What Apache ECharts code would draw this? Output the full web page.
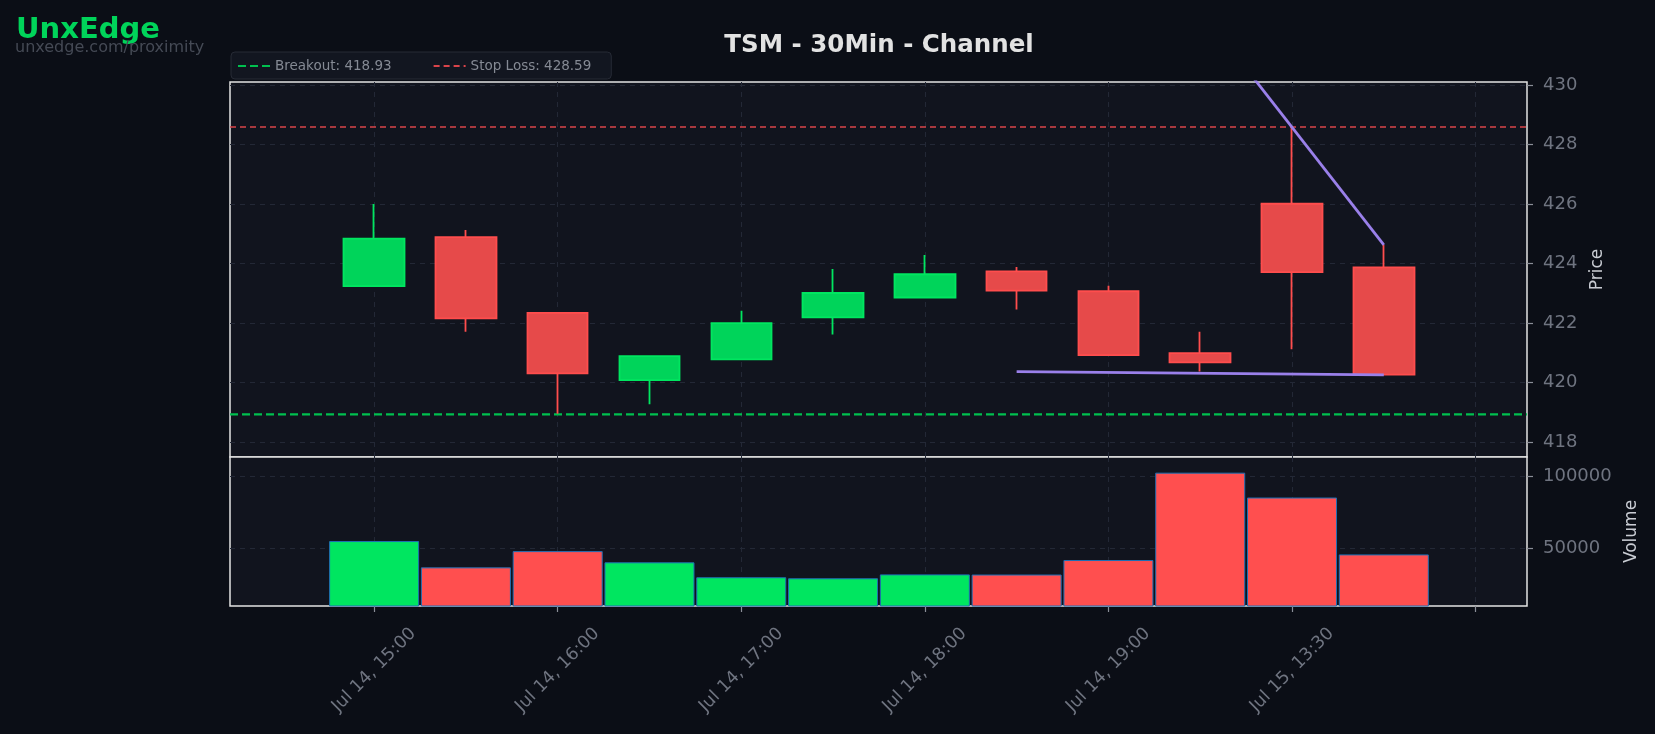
<!DOCTYPE html>
<html>
<head>
<meta charset="utf-8">
<title>TSM - 30Min - Channel</title>
<script src="https://cdn.jsdelivr.net/npm/echarts@6/dist/echarts.min.js"></script>
<style>
    html, body {margin: 0; padding: 0; background: #0b0e16;}
    #main {width: 1655px; height: 734px;}
</style>
</head>
<body>
<div id="main"></div>
<script>
var timeLabels = ['Jul 14, 15:00', 'Jul 14, 15:30', 'Jul 14, 16:00', 'Jul 14, 16:30', 'Jul 14, 17:00', 'Jul 14, 17:30',
    'Jul 14, 18:00', 'Jul 14, 18:30', 'Jul 14, 19:00', 'Jul 14, 19:30', 'Jul 15, 13:30', 'Jul 15, 14:00'];
var opens  = [423.24, 424.89, 422.34, 420.08, 420.78, 422.19, 422.86, 423.74, 423.07, 420.99, 426.01, 423.87];
var closes = [424.84, 422.16, 420.31, 420.89, 422.00, 423.01, 423.64, 423.09, 420.92, 420.68, 423.71, 420.27];
var lows   = [423.24, 421.71, 418.95, 419.27, 420.78, 421.62, 422.86, 422.46, 420.92, 420.37, 421.12, 420.27];
var highs  = [426.00, 425.13, 422.34, 420.89, 422.41, 423.82, 424.29, 423.88, 423.25, 421.71, 428.59, 424.63];
var volumes = [54900, 36600, 47900, 40100, 29700, 29000, 31700, 31600, 41700, 102500, 85200, 45600];

var breakout = 418.93;
var stopLoss = 428.59;
// channel lines: [index, price]
var upperChannel = [[7, 440.43], [11, 424.63]];
var lowerChannel = [[7, 420.37], [11, 420.26]];

// tick positions
var xTicks = [0, 2, 4, 6, 8, 10, 12];
var priceTicks = [418, 420, 422, 424, 426, 428, 430];
var volumeTicks = [50000, 100000];

var xMin = -1.57, xMax = 12.56;

var UP = '#00d45a', UP_EDGE = '#00e660', DOWN = '#e64a4a', DOWN_EDGE = '#ff4d4d';
var GRID_LINE = {show: true, lineStyle: {color: '#232836', type: [5, 5], width: 1}};
var LABEL_COLOR = '#6f7480';
var TICK = {show: true, length: 6, lineStyle: {color: '#8a8e98', width: 1.2}};
var NO_LINE = {show: false, onZero: false};

var candleData = [], volData = [];
for (var i = 0; i < opens.length; i++) {
    candleData.push([i, opens[i], closes[i], lows[i], highs[i]]);
    var up = closes[i] >= opens[i];
    volData.push({value: [i, volumes[i]], itemStyle: {color: up ? '#00e660' : '#ff4f4f'}});
}

var chart = echarts.init(document.getElementById('main'));
var option = {
    backgroundColor: '#0b0e16',
    animation: false,
    title: [
        {text: 'TSM - 30Min - Channel', left: 874, top: 28, textAlign: 'center',
            textStyle: {color: '#e2e2e2', fontSize: 24.5, fontWeight: 'bold', fontFamily: 'DejaVu Sans'}},
        {text: 'UnxEdge', left: 11, top: 11,
            textStyle: {color: '#00d45a', fontSize: 29, fontWeight: 'bold', fontFamily: 'DejaVu Sans'}},
        {text: 'unxedge.com/proximity', left: 10, top: 35,
            textStyle: {color: '#454a55', fontSize: 16, fontWeight: 'normal', fontFamily: 'DejaVu Sans'}}
    ],
    legend: {
        left: 231, top: 52,
        padding: [7, 20, 6, 6],
        itemWidth: 32, itemHeight: 12, itemGap: 41,
        backgroundColor: '#121620', borderColor: '#262a35', borderWidth: 1, borderRadius: 4,
        itemStyle: {color: 'transparent', borderColor: 'transparent', borderWidth: 0},
        textStyle: {color: '#858a94', fontSize: 13.5, fontFamily: 'DejaVu Sans'},
        data: ['Breakout: ' + breakout.toFixed(2), 'Stop Loss: ' + stopLoss.toFixed(2)]
    },
    grid: [
        {left: 230, right: 128, top: 82, height: 375, show: true, backgroundColor: '#11141e',
            borderColor: '#e4e4e4', borderWidth: 1.5},
        {left: 230, right: 128, top: 457, height: 149, show: true, backgroundColor: '#11141e',
            borderColor: '#e4e4e4', borderWidth: 1.5}
    ],
    xAxis: [
        {type: 'value', gridIndex: 0, min: xMin, max: xMax,
            axisLine: NO_LINE, axisTick: {show: false, customValues: xTicks},
            axisLabel: {show: false}, splitLine: GRID_LINE},
        {type: 'value', gridIndex: 1, min: xMin, max: xMax,
            axisLine: NO_LINE,
            axisTick: Object.assign({customValues: xTicks}, TICK),
            axisLabel: {
                show: true, customValues: xTicks, rotate: 45, align: 'center', verticalAlign: 'middle', margin: 64,
                color: LABEL_COLOR, fontSize: 17.5, fontFamily: 'DejaVu Sans',
                formatter: function (v) {
                    var k = Math.round(v);
                    return (Math.abs(v - k) < 1e-6 && timeLabels[k]) ? timeLabels[k] : '';
                }
            },
            splitLine: GRID_LINE}
    ],
    yAxis: [
        {type: 'value', gridIndex: 0, position: 'right', min: 417.5, max: 430.1,
            name: 'Price', nameLocation: 'middle', nameGap: 62, nameRotate: 90,
            nameTextStyle: {color: '#c9ccd3', fontSize: 17, fontFamily: 'DejaVu Sans'},
            axisLine: NO_LINE,
            axisTick: Object.assign({customValues: priceTicks}, TICK),
            axisLabel: {customValues: priceTicks, color: LABEL_COLOR, fontSize: 18, margin: 16, fontFamily: 'DejaVu Sans',
                formatter: function (v) { return String(v); }},
            splitLine: GRID_LINE},
        {type: 'value', gridIndex: 1, position: 'right', min: 9700, max: 113400,
            name: 'Volume', nameLocation: 'middle', nameGap: 95, nameRotate: 90,
            nameTextStyle: {color: '#c9ccd3', fontSize: 17, fontFamily: 'DejaVu Sans'},
            axisLine: NO_LINE,
            axisTick: Object.assign({customValues: volumeTicks}, TICK),
            axisLabel: {customValues: volumeTicks, color: LABEL_COLOR, fontSize: 18, margin: 16, fontFamily: 'DejaVu Sans',
                formatter: function (v) { return String(v); }},
            splitLine: GRID_LINE}
    ],
    series: [
        {
            name: 'Breakout: ' + breakout.toFixed(2), type: 'line', xAxisIndex: 0, yAxisIndex: 0,
            symbol: 'none', data: [[xMin, breakout], [xMax, breakout]],
            lineStyle: {color: '#00c04f', width: 2.2, type: [8, 4]}, itemStyle: {color: '#00c04f'}, z: 3
        },
        {
            name: 'Stop Loss: ' + stopLoss.toFixed(2), type: 'line', xAxisIndex: 0, yAxisIndex: 0,
            symbol: 'none', data: [[xMin, stopLoss], [xMax, stopLoss]],
            lineStyle: {color: '#d9444a', width: 1.6, type: [6, 4]}, itemStyle: {color: '#d9444a'}, z: 3
        },
        {
            name: 'Candles', type: 'candlestick', xAxisIndex: 0, yAxisIndex: 0,
            barWidth: 61, data: candleData,
            encode: {x: 0, y: [1, 2, 3, 4]},
            itemStyle: {color: UP, color0: DOWN, borderColor: UP_EDGE, borderColor0: DOWN_EDGE, borderWidth: 1.8},
            z: 4
        },
        {
            name: 'Upper', type: 'line', xAxisIndex: 0, yAxisIndex: 0, symbol: 'none', clip: true,
            data: upperChannel, lineStyle: {color: '#9a80ea', width: 2.8}, z: 5
        },
        {
            name: 'Lower', type: 'line', xAxisIndex: 0, yAxisIndex: 0, symbol: 'none', clip: true,
            data: lowerChannel, lineStyle: {color: '#9a80ea', width: 2.8}, z: 5
        },
        {
            name: 'Volume', type: 'bar', xAxisIndex: 1, yAxisIndex: 1, barWidth: 90, clip: true,
            data: volData, itemStyle: {borderColor: '#1f6fb4', borderWidth: 1}
        }
    ]
};
chart.setOption(option);
</script>
</body>
</html>
